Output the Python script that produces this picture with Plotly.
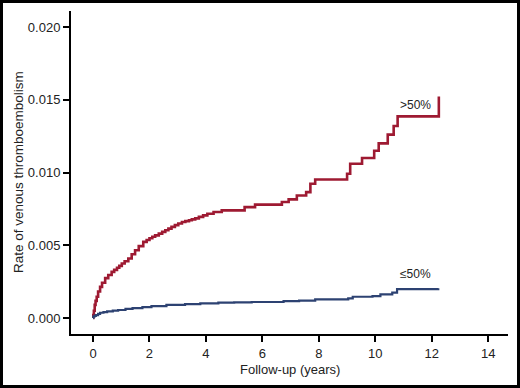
import plotly.graph_objects as go

# >50% group (red)
x_hi = [0, 0.01, 0.03, 0.06, 0.09, 0.13, 0.18, 0.25, 0.32, 0.43, 0.54, 0.66, 0.75, 0.85,
        0.93, 1.02, 1.12, 1.25, 1.37, 1.49, 1.62, 1.78, 1.9, 2.0, 2.1, 2.2, 2.33, 2.45, 2.56,
        2.67, 2.78, 2.9, 3.02, 3.15, 3.27, 3.4, 3.5, 3.62, 3.75, 3.9, 4.05, 4.27, 4.56,
        5.37, 5.74, 6.69, 6.93, 7.22, 7.55, 7.70, 7.87, 9.0, 9.11, 9.53, 9.96, 10.12, 10.44,
        10.65, 10.79, 12.25]
y_hi = [0, 0.0002, 0.0005, 0.0009, 0.00118, 0.00146, 0.00182, 0.00214, 0.00242, 0.00274,
        0.00296, 0.00317, 0.00331, 0.00345, 0.00358, 0.00375, 0.0039, 0.00409, 0.00438,
        0.00466, 0.00494, 0.00523, 0.00536, 0.00548, 0.00558, 0.00568, 0.0058, 0.00592,
        0.00603, 0.00614, 0.00626, 0.00638, 0.00649, 0.00660, 0.00666, 0.00672, 0.00678,
        0.00685, 0.00695, 0.00705, 0.00716, 0.00728, 0.0074, 0.00762, 0.00779, 0.00797,
        0.00815, 0.00842, 0.00865, 0.00923, 0.00952, 0.00991, 0.0106, 0.0110, 0.0115,
        0.0120, 0.0126, 0.0132, 0.01386, 0.01523]

# <=50% group (blue)
x_lo = [0, 0.01, 0.05, 0.1, 0.18, 0.25, 0.37, 0.5, 0.7, 0.89, 1.15, 1.4, 1.75, 2.07, 2.6,
        3.26, 3.8, 4.44, 5.0, 5.62, 6.75, 7.3, 7.87, 9.04, 9.2, 9.9, 10.18, 10.6, 10.77, 12.23]
y_lo = [0, 0.00009, 0.00015, 0.0002, 0.00028, 0.00036, 0.0004, 0.00045, 0.0005, 0.00055,
        0.00062, 0.00068, 0.00075, 0.00082, 0.0009, 0.00096, 0.001, 0.00105, 0.00108,
        0.0011, 0.00116, 0.0012, 0.00128, 0.00135, 0.00146, 0.0015, 0.00162, 0.00175,
        0.00199, 0.00205]

x_ticks = [0, 2, 4, 6, 8, 10, 12, 14]
y_ticks = [0.000, 0.005, 0.010, 0.015, 0.020]
y_tick_labels = ["0.000", "0.005", "0.010", "0.015", "0.020"]

RED = "#9E1A32"
BLUE = "#2D4272"
TXT = "#222222"

W, H = 520, 388
ML, MR, MT, MB = 71, 12, 11, 54

fig = go.Figure()
fig.add_trace(go.Scatter(x=x_hi, y=y_hi, mode="lines", line=dict(color=RED, width=2.6, shape="hv"),
                         showlegend=False, hoverinfo="skip"))
fig.add_trace(go.Scatter(x=x_lo, y=y_lo, mode="lines", line=dict(color=BLUE, width=2.2, shape="hv"),
                         showlegend=False, hoverinfo="skip"))

fig.add_annotation(x=12.06, y=0.01466, text=">50%", showarrow=False, xanchor="right",
                   font=dict(family="Liberation Sans, Arial, sans-serif", size=12, color=TXT))
fig.add_annotation(x=12.06, y=0.00301, text="≤50%", showarrow=False, xanchor="right",
                   font=dict(family="Liberation Sans, Arial, sans-serif", size=12, color=TXT))

pw = W - ML - MR
ph = H - MT - MB
def px2paper_x(px):
    return (px - ML) / pw
def py2paper_y(py):
    return (H - MB - py) / ph

# axis titles
fig.add_annotation(xref="paper", yref="paper", x=px2paper_x(290), y=py2paper_y(369),
                   text="Follow-up (years)", showarrow=False, xanchor="center", yanchor="middle",
                   font=dict(family="Liberation Sans Narrow, Arial Narrow, sans-serif", size=13, color=TXT))
fig.add_annotation(xref="paper", yref="paper", x=px2paper_x(18), y=py2paper_y(172),
                   text="Rate of venous thromboembolism", showarrow=False, textangle=-90,
                   xanchor="center", yanchor="middle",
                   font=dict(family="Liberation Sans, Arial, sans-serif", size=13.5, color=TXT))

# outer frame border
fig.add_shape(type="rect", xref="paper", yref="paper",
              x0=px2paper_x(1.5), x1=px2paper_x(518.5), y0=py2paper_y(386.5), y1=py2paper_y(1.5),
              line=dict(color="black", width=3), fillcolor="rgba(0,0,0,0)", layer="above")

fig.update_layout(
    width=W, height=H,
    margin=dict(l=ML, r=MR, t=MT, b=MB),
    plot_bgcolor="white", paper_bgcolor="white",
    font=dict(family="Liberation Sans, Arial, sans-serif", size=13, color=TXT),
    xaxis=dict(range=[-0.78, 14.7], tickvals=x_ticks, showline=True, linecolor="black", linewidth=2,
               ticks="outside", ticklen=6, tickwidth=1.5, tickcolor="black", showgrid=False,
               zeroline=False, tickfont=dict(size=13), automargin=False),
    yaxis=dict(range=[-0.0011, 0.0211], tickvals=y_ticks, ticktext=y_tick_labels, showline=True,
               linecolor="black", linewidth=2, ticks="outside", ticklen=6, tickwidth=1.5,
               tickcolor="black", showgrid=False, zeroline=False, tickfont=dict(size=13),
               automargin=False),
)

fig.write_html("out.html", config={"displayModeBar": False},
               post_script="document.body.style.margin='0';document.body.style.padding='0';"
                           "document.documentElement.style.overflow='hidden';")
